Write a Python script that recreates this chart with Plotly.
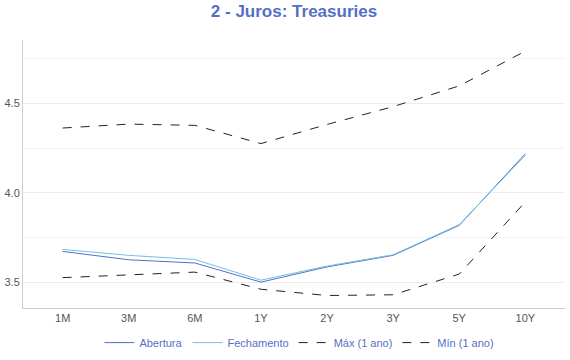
import plotly.graph_objects as go

categories = ["1M", "3M", "6M", "1Y", "2Y", "3Y", "5Y", "10Y"]
abertura = [3.672, 3.625, 3.607, 3.500, 3.585, 3.650, 3.818, 4.219]
fechamento = [3.683, 3.650, 3.627, 3.511, 3.590, 3.653, 3.822, 4.210]
maximo = [4.363, 4.385, 4.378, 4.276, 4.383, 4.483, 4.599, 4.794]
minimo = [3.525, 3.540, 3.556, 3.460, 3.425, 3.429, 3.545, 3.949]

fig = go.Figure()
fig.add_trace(go.Scatter(x=categories, y=abertura, name="Abertura", mode="lines",
                         line=dict(color="#5470c6", width=1)))
fig.add_trace(go.Scatter(x=categories, y=fechamento, name="Fechamento", mode="lines",
                         line=dict(color="#73c0de", width=1)))
fig.add_trace(go.Scatter(x=categories, y=maximo, name="Máx (1 ano)", mode="lines",
                         line=dict(color="#222222", width=1, dash="dash")))
fig.add_trace(go.Scatter(x=categories, y=minimo, name="Mín (1 ano)", mode="lines",
                         line=dict(color="#222222", width=1, dash="dash")))

fig.update_layout(
    width=570, height=360,
    margin=dict(l=23, r=5, t=40, b=52, autoexpand=False),
    paper_bgcolor="white", plot_bgcolor="white",
    font=dict(family="Liberation Sans, Arial, sans-serif", size=11, color="#555555"),
    title=dict(text="<b>2 - Juros: Treasuries</b>", xref="paper", x=0.5, xanchor="center",
               y=0.985, yanchor="top", font=dict(size=17, color="#5470c6")),
    legend=dict(orientation="h", x=0.51, xanchor="center", y=-0.075, yanchor="top",
                font=dict(size=11, color="#5470c6"), itemwidth=30, tracegroupgap=0),
    xaxis=dict(range=[-0.6, 7.6], showgrid=False, showline=True, linecolor="#cccccc",
               ticks="", automargin=False, tickfont=dict(color="#555555")),
    yaxis=dict(range=[3.355, 4.856], dtick=0.5, tick0=3.5, tickformat=".1f",
               showgrid=True, gridcolor="#eeeeee", showline=True, linecolor="#cccccc",
               zeroline=False, ticks="", automargin=False,
               minor=dict(dtick=0.25, tick0=3.5, showgrid=True, gridcolor="#f3f3f3")),
)

fig.write_html("out.html", config={"displayModeBar": False},
               post_script="document.body.style.margin='0';")
